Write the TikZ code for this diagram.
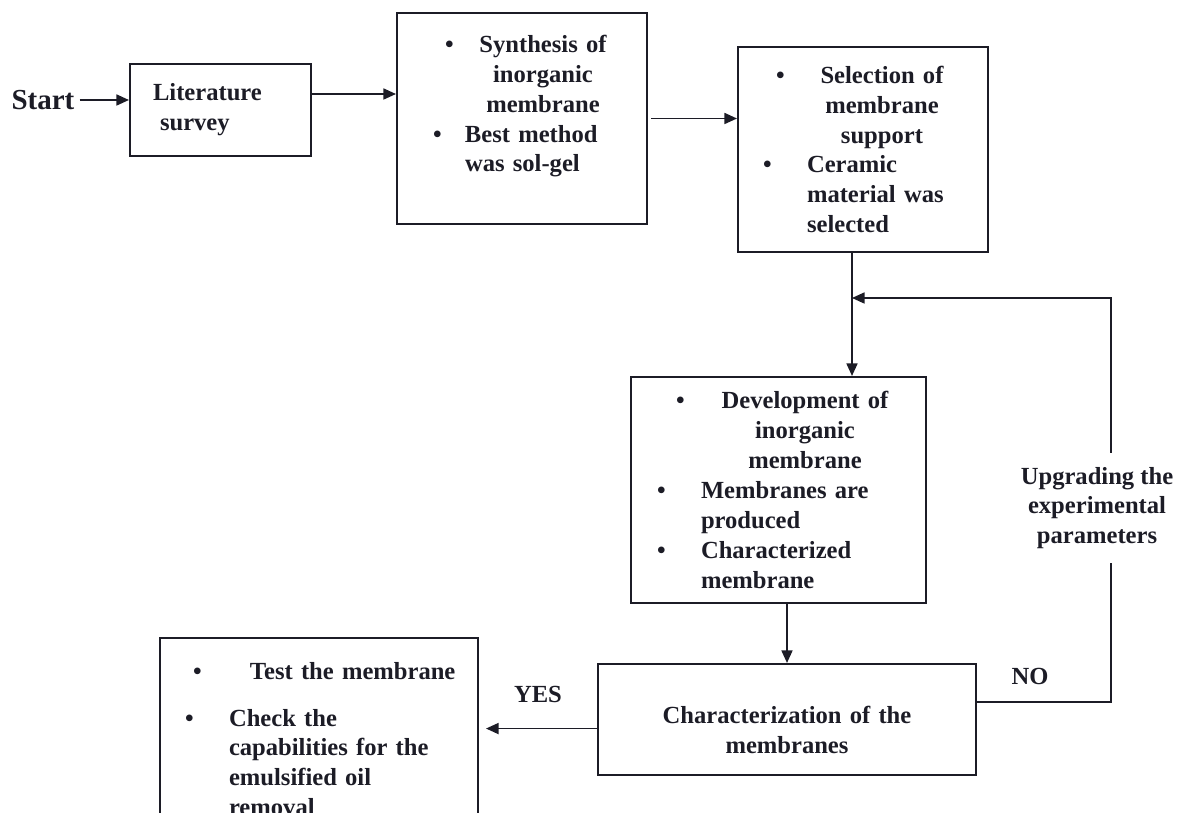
\documentclass[tikz,border=0pt]{standalone}
\usepackage{fontspec}
\setmainfont{Liberation Serif}
\usepackage{xcolor}
\definecolor{flowInk}{HTML}{1C1C26}
\usetikzlibrary{arrows.meta,positioning,calc}
\newcommand{\bul}[1]{\makebox[#1][l]{\textbullet}}
\tikzset{
    stage/.style={
        draw=flowInk,
        rectangle,
        line width=1.2pt,
        inner sep=0pt,
        align=left,
        text=flowInk,
        font=\fontsize{14}{17}\selectfont\bfseries
    },
    arrow/.style={
        -{Triangle[length=0.25cm,width=0.22cm]},
        line width=0.9pt,
        color=flowInk
    },
    link/.style={
        line width=0.9pt,
        color=flowInk
    },
    note/.style={
        text=flowInk,
        align=center,
        font=\fontsize{14}{17}\selectfont\bfseries
    }
}

\begin{document}
\begin{tikzpicture}[x=0.02cm,y=-0.02cm]
    \useasboundingbox (0,0) rectangle (1177,813);
    \clip (0,0) rectangle (1177,813);

    % Stages
    \node[note, font=\fontsize{16.5}{20}\selectfont\bfseries, inner sep=0.1cm] (start) at (43,100) {Start};
    \node[stage, text width=3.62cm, minimum height=1.84cm] (survey) at (220.5,110)
        {\hspace*{0.46cm}Literature\\\hspace*{0.6cm}survey};
    \node[stage, text width=5cm, minimum height=4.22cm] (synth) at (522,118.5)
        {\hspace*{0.96cm}\bul{0.68cm}\makebox[2.56cm]{Synthesis of}\\
         \hspace*{1.64cm}\makebox[2.56cm]{inorganic}\\
         \hspace*{1.64cm}\makebox[2.56cm]{membrane}\\
         \hspace*{0.72cm}\bul{0.64cm}Best method\\
         \hspace*{1.36cm}was sol-gel\\
         \mbox{}};
    \node[stage, text width=5cm, minimum height=4.1cm] (support) at (863,149.5)
        {\hspace*{0.76cm}\bul{0.88cm}\makebox[2.48cm]{Selection of}\\
         \hspace*{1.64cm}\makebox[2.48cm]{membrane}\\
         \hspace*{1.64cm}\makebox[2.48cm]{support}\\
         \hspace*{0.5cm}\bul{0.88cm}Ceramic\\
         \hspace*{1.38cm}material was\\
         \hspace*{1.38cm}selected};
    \node[stage, text width=5.9cm, minimum height=4.52cm] (develop) at (778.5,490)
        {\hspace*{0.9cm}\bul{0.9cm}\makebox[3.36cm]{Development of}\\
         \hspace*{1.8cm}\makebox[3.36cm]{inorganic}\\
         \hspace*{1.8cm}\makebox[3.36cm]{membrane}\\
         \hspace*{0.52cm}\bul{0.88cm}Membranes are\\
         \hspace*{1.4cm}produced\\
         \hspace*{0.52cm}\bul{0.88cm}Characterized\\
         \hspace*{1.4cm}membrane};
    \node[stage, align=center, text width=7.56cm, minimum height=2.22cm] (charact) at (787,719.5)
        {\mbox{}\\[0.16cm]Characterization of the\\membranes};
    \node[stage, text width=6.36cm, minimum height=4.04cm] (test) at (319,739)
        {\hspace*{0.66cm}\bul{1.14cm}Test the membrane\\[0.34cm]
         \hspace*{0.5cm}\bul{0.88cm}Check the\\
         \hspace*{1.38cm}capabilities for the\\
         \hspace*{1.38cm}emulsified oil\\
         \hspace*{1.38cm}removal};
    \node[note, inner ysep=8pt] (upgrade) at (1097,508)
        {Upgrading the\\experimental\\parameters};

    % Turning points
    \coordinate (join) at (852,298);
    \coordinate (turn) at (1111,298);
    \coordinate (back) at (1111,702);
    \coordinate (litout) at ($(survey.north east)!0.33!(survey.south east)$);
    \coordinate (yesout) at ($(charact.north west)!0.58!(charact.south west)$);

    % Main flow
    \draw[arrow] (start.east) -- (start.east -| survey.west);
    \draw[arrow] (litout) -- (litout -| synth.west);
    \draw[arrow, shorten <=0.06cm] (synth.east) -- (synth.east -| support.west);
    \draw[arrow] (support.south -| join) -- (join |- develop.north);
    \draw[arrow] (develop.south -| charact.north) -- (charact.north);
    \draw[arrow, shorten >=0.14cm] (yesout) -- node[note, above=0.38cm] {YES} (yesout -| test.east);

    % Loop back
    \draw[link] (charact.east |- back) -- node[note, above=0.22cm, xshift=-0.28cm] {NO} (back) -- (back |- upgrade.south);
    \draw[arrow] (upgrade.north -| turn) -- (turn) -- (join);
\end{tikzpicture}
\end{document}
